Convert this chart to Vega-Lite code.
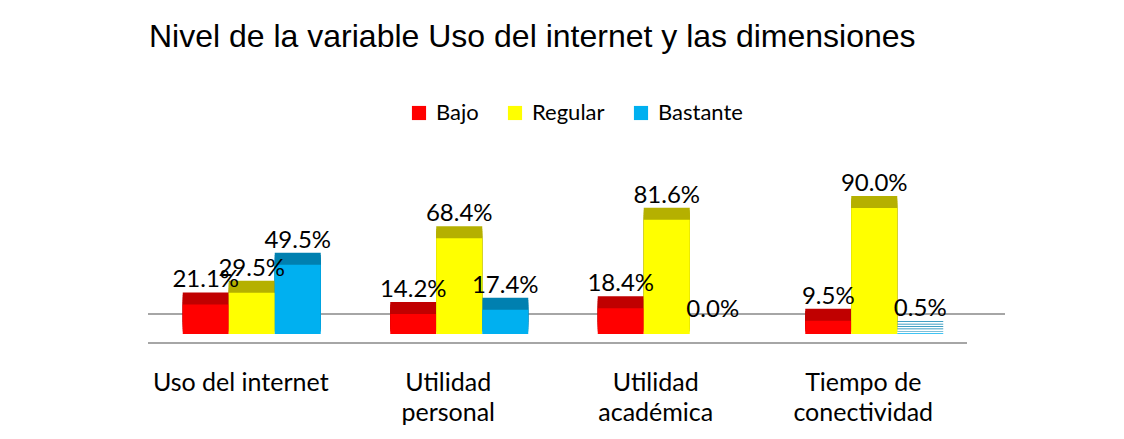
{
  "$schema": "https://vega.github.io/schema/vega-lite/v6.json",
  "width": 830,
  "height": 140,
  "autosize": {"type": "none"},
  "padding": {"left": 148, "top": 194, "right": 146, "bottom": 105},
  "background": "white",
  "config": {"view": {"stroke": null}},
  "title": {
    "text": "Nivel de la variable Uso del internet y las dimensiones",
    "anchor": "start",
    "frame": "group",
    "font": "Liberation Sans",
    "fontSize": 32,
    "fontWeight": "normal",
    "color": "black",
    "baseline": "alphabetic",
    "offset": 23,
    "dx": 1
  },
  "data": {
    "values": [
      {"dimension": "Uso del internet", "nivel": "Bajo", "pct": 0.211},
      {"dimension": "Uso del internet", "nivel": "Regular", "pct": 0.295},
      {"dimension": "Uso del internet", "nivel": "Bastante", "pct": 0.495},
      {"dimension": "Utilidad personal", "nivel": "Bajo", "pct": 0.142},
      {"dimension": "Utilidad personal", "nivel": "Regular", "pct": 0.684},
      {"dimension": "Utilidad personal", "nivel": "Bastante", "pct": 0.174},
      {"dimension": "Utilidad académica", "nivel": "Bajo", "pct": 0.184},
      {"dimension": "Utilidad académica", "nivel": "Regular", "pct": 0.816},
      {"dimension": "Utilidad académica", "nivel": "Bastante", "pct": 0.0},
      {"dimension": "Tiempo de conectividad", "nivel": "Bajo", "pct": 0.095},
      {"dimension": "Tiempo de conectividad", "nivel": "Regular", "pct": 0.9},
      {"dimension": "Tiempo de conectividad", "nivel": "Bastante", "pct": 0.005}
    ]
  },
  "resolve": {"scale": {"color": "independent"}, "legend": {"color": "independent"}},
  "layer": [
    {
      "mark": {"type": "rule", "color": "#a6a6a6", "strokeWidth": 2, "xOffset": -11, "yOffset": 9},
      "encoding": {"y": {"datum": 0, "type": "quantitative", "scale": {"domain": [0, 1]}, "axis": null}}
    },
    {
      "mark": {"type": "rule", "color": "#a6a6a6", "strokeWidth": 2, "xOffset": 27, "yOffset": -20},
      "encoding": {"y": {"datum": 0, "type": "quantitative"}}
    },
    {
      "mark": {"type": "bar", "xOffset": 3, "yOffset": -2.4},
      "encoding": {
        "x": {"field": "dimension", "type": "nominal", "sort": null},
        "xOffset": {"field": "nivel", "sort": ["Bajo", "Regular", "Bastante"]},
        "y": {"field": "pct", "type": "quantitative"},
        "color": {"field": "nivel", "scale": {"domain": ["Bajo", "Regular", "Bastante"], "range": ["#c00000", "#b5b000", "#0080b0"]}, "legend": null}
      }
    },
    {
      "mark": {"type": "bar", "xOffset": 6, "yOffset": -4.8},
      "encoding": {
        "x": {"field": "dimension", "type": "nominal", "sort": null},
        "xOffset": {"field": "nivel", "sort": ["Bajo", "Regular", "Bastante"]},
        "y": {"field": "pct", "type": "quantitative"},
        "color": {"field": "nivel", "scale": {"domain": ["Bajo", "Regular", "Bastante"], "range": ["#c00000", "#b5b000", "#0080b0"]}, "legend": null}
      }
    },
    {
      "mark": {"type": "bar", "xOffset": 9, "yOffset": -7.2},
      "encoding": {
        "x": {"field": "dimension", "type": "nominal", "sort": null},
        "xOffset": {"field": "nivel", "sort": ["Bajo", "Regular", "Bastante"]},
        "y": {"field": "pct", "type": "quantitative"},
        "color": {"field": "nivel", "scale": {"domain": ["Bajo", "Regular", "Bastante"], "range": ["#c00000", "#b5b000", "#0080b0"]}, "legend": null}
      }
    },
    {
      "mark": {"type": "bar", "xOffset": 12, "yOffset": -9.6},
      "encoding": {
        "x": {"field": "dimension", "type": "nominal", "sort": null},
        "xOffset": {"field": "nivel", "sort": ["Bajo", "Regular", "Bastante"]},
        "y": {"field": "pct", "type": "quantitative"},
        "color": {"field": "nivel", "scale": {"domain": ["Bajo", "Regular", "Bastante"], "range": ["#c00000", "#b5b000", "#0080b0"]}, "legend": null}
      }
    },
    {
      "mark": {"type": "bar", "xOffset": 15, "yOffset": -12},
      "encoding": {
        "x": {"field": "dimension", "type": "nominal", "sort": null},
        "xOffset": {"field": "nivel", "sort": ["Bajo", "Regular", "Bastante"]},
        "y": {"field": "pct", "type": "quantitative"},
        "color": {"field": "nivel", "scale": {"domain": ["Bajo", "Regular", "Bastante"], "range": ["#c00000", "#b5b000", "#0080b0"]}, "legend": null}
      }
    },
    {
      "mark": {"type": "bar"},
      "encoding": {
        "x": {
          "field": "dimension", "type": "nominal", "sort": null,
          "scale": {"paddingInner": 0.335, "paddingOuter": 0.1675},
          "axis": {
            "title": null, "domain": false, "ticks": false, "labelAngle": 0, "labelAlign": "center",
            "labelFont": "Lato", "labelFontSize": 25, "labelColor": "black",
            "labelPadding": 36, "labelOffset": -11, "labelLineHeight": 30, "labelBaseline": "top",
            "labelExpr": "indexof(datum.label, 'Utilidad') == 0 ? split(datum.label, ' ') : datum.label == 'Tiempo de conectividad' ? ['Tiempo de', 'conectividad'] : datum.label"
          }
        },
        "xOffset": {"field": "nivel", "sort": ["Bajo", "Regular", "Bastante"], "scale": {"paddingInner": 0, "paddingOuter": 0}},
        "y": {"field": "pct", "type": "quantitative"},
        "color": {
          "field": "nivel", "sort": ["Bajo", "Regular", "Bastante"],
          "scale": {"domain": ["Bajo", "Regular", "Bastante"], "range": ["#ff0000", "#ffff00", "#00b0f0"]},
          "legend": {
            "title": null, "orient": "none", "direction": "horizontal", "legendX": 260, "legendY": -92,
            "symbolType": "square", "symbolSize": 200, "symbolStrokeWidth": 0,
            "labelFont": "Lato", "labelFontSize": 22, "labelColor": "black", "labelOffset": 6, "columnPadding": 25
          }
        }
      }
    },
    {
      "mark": {"type": "text", "font": "Lato", "fontSize": 24, "color": "black", "baseline": "middle", "dy": -24},
      "encoding": {
        "x": {"field": "dimension", "type": "nominal", "sort": null},
        "xOffset": {"field": "nivel", "sort": ["Bajo", "Regular", "Bastante"]},
        "y": {"field": "pct", "type": "quantitative"},
        "text": {"field": "pct", "type": "quantitative", "format": ".1%"}
      }
    }
  ]
}
